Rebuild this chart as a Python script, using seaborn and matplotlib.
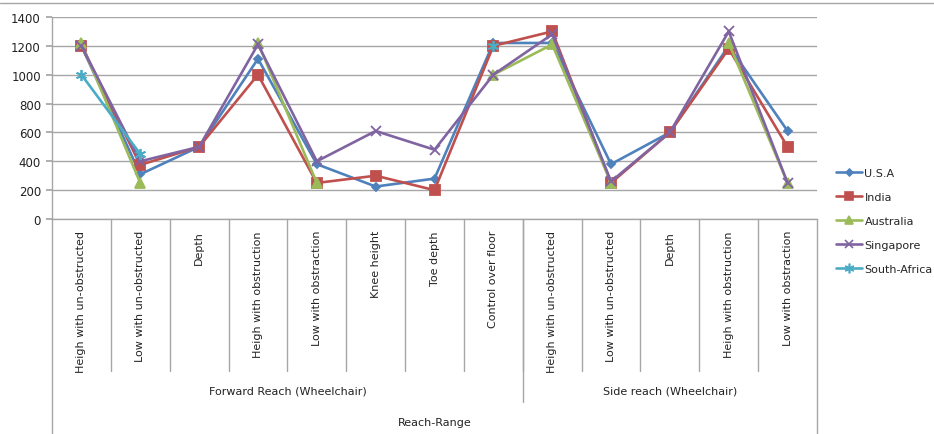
import numpy as np
import pandas as pd
import matplotlib
matplotlib.use("Agg")
import matplotlib.pyplot as plt
import matplotlib.transforms as mtransforms
from matplotlib.lines import Line2D
import seaborn as sns

categories = [
    "Heigh with un-obstructed", "Low with un-obstructed", "Depth",
    "Heigh with obstruction", "Low with obstraction", "Knee height",
    "Toe depth", "Control over floor",
    "Heigh with un-obstructed", "Low with un-obstructed", "Depth",
    "Heigh with obstruction", "Low with obstraction",
]
groups = ["Forward Reach (Wheelchair)", "Side reach (Wheelchair)"]
group_sizes = [8, 5]
axis_title = "Reach-Range"

nan = np.nan
usa = [1200, 310, 500, 1110, 380, 225, 280, 1220, 1220, 380, 600, 1200, 610]
india = [1200, 375, 500, 1000, 250, 300, 200, 1200, 1300, 250, 600, 1180, 500]
australia = [1220, 250, nan, 1220, 250, nan, nan, 1000, 1210, 250, nan, 1220, 250]
singapore = [1200, 400, 500, 1210, 400, 610, 480, 1000, 1280, 260, 600, 1300, 250]
south_africa = [1000, 450, nan, nan, nan, nan, nan, 1200, nan, nan, nan, nan, nan]

series = {
    "U.S.A": usa,
    "India": india,
    "Australia": australia,
    "Singapore": singapore,
    "South-Africa": south_africa,
}
styles = {
    "U.S.A": dict(color="#4F81BD", marker="D", markersize=4.5),
    "India": dict(color="#C0504D", marker="s", markersize=7),
    "Australia": dict(color="#9BBB59", marker="^", markersize=7),
    "Singapore": dict(color="#8064A2", marker="x", markersize=7),
    "South-Africa": dict(color="#4BACC6", marker=(6, 2, 0), markersize=8),
}

sns.set_theme(style="white")
plt.rcParams["font.family"] = ["DejaVu Sans"]

W, H = 934, 435
fig = plt.figure(figsize=(W / 100, H / 100), dpi=100)
x0, x1, ytop, ybot = 52, 817, 18, 220
ax = fig.add_axes([x0 / W, 1 - ybot / H, (x1 - x0) / W, (ybot - ytop) / H])

xs = np.arange(len(categories))
for name, vals in series.items():
    st = styles[name]
    df = pd.DataFrame({"x": xs, "y": vals})
    valid = df["y"].notna()
    seg_id = (~valid).cumsum()
    for _, seg in df[valid].groupby(seg_id[valid]):
        sns.lineplot(
            data=seg, x="x", y="y", ax=ax, color=st["color"],
            marker=st["marker"], markersize=st["markersize"],
            markeredgecolor=st["color"], markeredgewidth=1.3,
            linewidth=1.9, legend=False, estimator=None, sort=False,
        )

ax.set_xlim(-0.5, len(categories) - 0.5)
ax.set_ylim(0, 1400)
ax.set_yticks(range(0, 1401, 200))
ax.set_xticks([])
ax.set_xlabel("")
ax.set_ylabel("")
ax.yaxis.grid(True, color="#A6A6A6", linewidth=1)
ax.set_axisbelow(True)
for s in ["top", "right"]:
    ax.spines[s].set_visible(False)
for s in ["left", "bottom"]:
    ax.spines[s].set_color("#A6A6A6")
    ax.spines[s].set_linewidth(1)
ax.tick_params(axis="y", left=True, length=4, color="#A6A6A6",
               labelsize=8.5, labelcolor="#222222", pad=4)

# Category boxes and group separators below the axis
trans = mtransforms.blended_transform_factory(ax.transData, ax.transAxes)
ph = ybot - ytop
def fy(py):
    return -(py - ybot) / ph

sep_col = "#A6A6A6"
for i in range(1, len(categories)):
    ax.plot([i - 0.5, i - 0.5], [0, fy(372)], transform=trans,
            color=sep_col, lw=1, clip_on=False)
start = 0
for gi, (g, n) in enumerate(zip(groups, group_sizes)):
    end = start + n
    if gi > 0:
        ax.plot([start - 0.5, start - 0.5], [0, fy(403)], transform=trans,
                color=sep_col, lw=1, clip_on=False)
    ax.text((start + end - 1) / 2, fy(392), g, transform=trans,
            ha="center", va="center", fontsize=8, color="#222222")
    start = end
for xb in (-0.5, len(categories) - 0.5):
    ax.plot([xb, xb], [0, fy(436)], transform=trans,
            color=sep_col, lw=1, clip_on=False)

for i, c in enumerate(categories):
    ax.text(i, fy(231), c, transform=trans, rotation=90, ha="center",
            va="top", fontsize=8, color="#222222")

ax.text((len(categories) - 1) / 2, fy(423), axis_title, transform=trans,
        ha="center", va="center", fontsize=8, color="#222222")

# Chart border line at the top
fig.add_artist(Line2D([0, 1], [1 - 4 / H, 1 - 4 / H], transform=fig.transFigure,
                      color="#A6A6A6", lw=1))

handles = [
    Line2D([], [], color=styles[n]["color"], marker=styles[n]["marker"],
           markersize=styles[n]["markersize"] - 1, markeredgewidth=1.2,
           markeredgecolor=styles[n]["color"], linewidth=1.9)
    for n in series
]
fig.legend(handles, list(series.keys()), loc="center left",
           bbox_to_anchor=(830 / W, 1 - 222 / H), frameon=False,
           fontsize=8, handlelength=2.4, handletextpad=0.2,
           labelspacing=1.25, borderpad=0)

fig.savefig("out.png", dpi=100)
